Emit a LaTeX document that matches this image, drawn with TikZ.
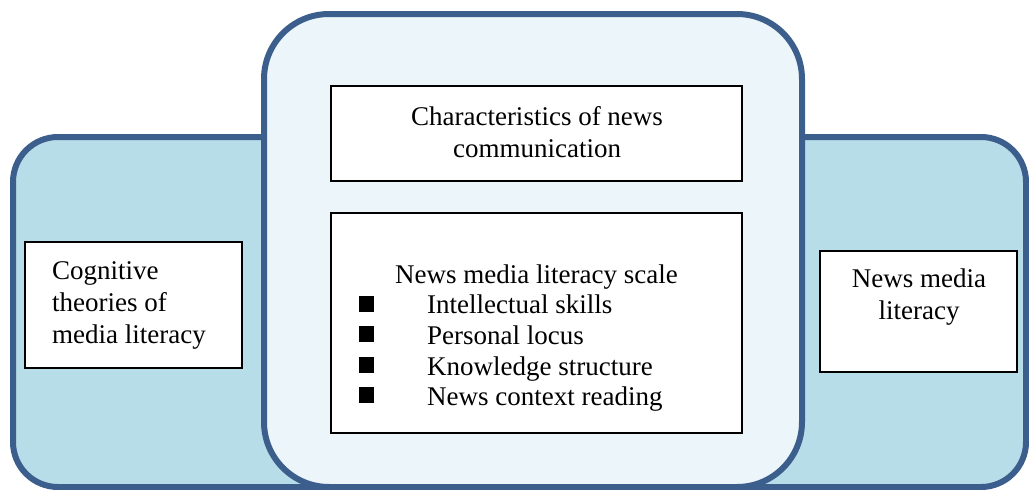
\documentclass[tikz,border=0pt]{standalone}
\usepackage{fontspec}
\setmainfont{Liberation Serif}
\definecolor{frame}{RGB}{59,94,140}
\definecolor{wide}{RGB}{183,221,232}
\definecolor{center}{RGB}{236,245,250}
\begin{document}
\begin{tikzpicture}[x=1pt,y=-1pt,
  outer/.style={draw=frame,line width=6pt,rounded corners=#1},
  box/.style={draw=black,line width=1.5pt,fill=white,rectangle,inner sep=0pt},
  txt/.style={font=\fontsize{27}{32}\selectfont,inner sep=0pt},
  bullet/.style={fill=black,rectangle,minimum width=15pt,minimum height=16pt,inner sep=0pt}]
\useasboundingbox (0,0) rectangle (1029,490);
% wide background panel
\path[outer=45pt,fill=wide] (13,137) rectangle (1026,487);
% central panel
\path[outer=65pt,fill=center] (264,14) rectangle (802,487);
% boxes
\node[box,minimum width=411pt,minimum height=95pt] (chars) at (536.5,133.5) {};
\node[box,minimum width=411pt,minimum height=220pt] (scale) at (536.5,323) {};
\node[box,minimum width=217pt,minimum height=126pt] (cog) at (133.5,305) {};
\node[box,minimum width=197pt,minimum height=121pt] (nml) at (918.5,311.5) {};
% texts
\node[txt,align=center] (charsT) at (537,132) {Characteristics of news\\communication};
\node[txt,align=left,anchor=west] (cogT) at (52,305) {Cognitive\\theories of\\media literacy};
\node[txt,align=center] (nmlT) at (919,297) {News media\\literacy};
\node[txt,anchor=base west] (s0) at (395,283) {News media literacy scale};
\node[txt,anchor=base west] (s1) at (427,313) {Intellectual skills};
\node[txt,anchor=base west] (s2) at (427,344) {Personal locus};
\node[txt,anchor=base west] (s3) at (427,375) {Knowledge structure};
\node[txt,anchor=base west] (s4) at (427,405) {News context reading};
\node[bullet] (b1) at (366,304) {};
\node[bullet] (b2) at (366,334) {};
\node[bullet] (b3) at (366,365) {};
\node[bullet] (b4) at (366,395) {};
\end{tikzpicture}
\end{document}
